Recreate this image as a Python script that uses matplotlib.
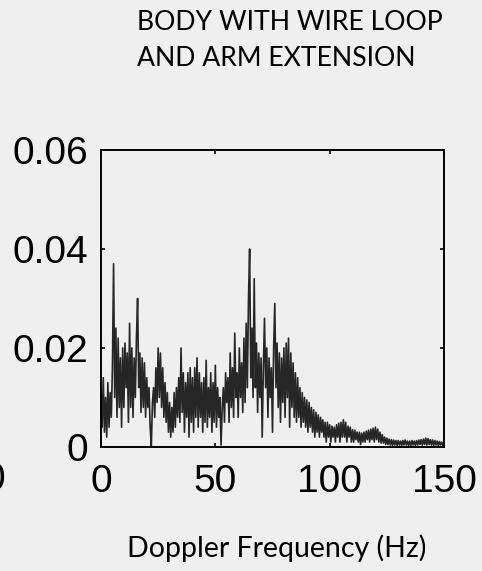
import matplotlib
matplotlib.use("Agg")
import matplotlib.pyplot as plt
import numpy as np

# Doppler spectrum, 0.5 Hz steps from 0 to 150 Hz
freq = np.arange(0, 150.5, 0.5)
amp = [
    0.012, 0.004, 0.014, 0.003, 0.010, 0.002, 0.013, 0.004, 0.011, 0.006,
    0.016, 0.037, 0.010, 0.024, 0.006, 0.022, 0.008, 0.018, 0.004, 0.020,
    0.008, 0.021, 0.012, 0.019, 0.005, 0.025, 0.008, 0.020, 0.006, 0.018,
    0.010, 0.022, 0.030, 0.012, 0.019, 0.007, 0.018, 0.008, 0.017, 0.006,
    0.014, 0.008, 0.012, 0.004, 0.000, 0.009, 0.012, 0.006, 0.016, 0.009,
    0.020, 0.010, 0.019, 0.008, 0.016, 0.006, 0.013, 0.005, 0.011, 0.003,
    0.009, 0.002, 0.008, 0.003, 0.011, 0.004, 0.012, 0.006, 0.014, 0.005,
    0.020, 0.007, 0.015, 0.003, 0.013, 0.006, 0.015, 0.002, 0.016, 0.005,
    0.014, 0.003, 0.016, 0.006, 0.018, 0.004, 0.015, 0.006, 0.013, 0.003,
    0.014, 0.005, 0.0175, 0.004, 0.012, 0.006, 0.015, 0.003, 0.013, 0.005,
    0.0165, 0.004, 0.012, 0.006, 0.010, 0.0004, 0.008, 0.012, 0.005, 0.015,
    0.009, 0.014, 0.005, 0.019, 0.008, 0.016, 0.006, 0.023, 0.010, 0.015,
    0.006, 0.020, 0.010, 0.017, 0.007, 0.022, 0.009, 0.025, 0.012, 0.030,
    0.040, 0.014, 0.024, 0.010, 0.034, 0.012, 0.021, 0.007, 0.019, 0.010,
    0.018, 0.002, 0.016, 0.026, 0.012, 0.020, 0.006, 0.018, 0.010, 0.016,
    0.003, 0.020, 0.029, 0.012, 0.021, 0.008, 0.019, 0.005, 0.018, 0.009,
    0.020, 0.006, 0.021, 0.010, 0.022, 0.004, 0.019, 0.008, 0.017, 0.006,
    0.015, 0.005, 0.014, 0.006, 0.012, 0.004, 0.011, 0.005, 0.010, 0.004,
    0.0095, 0.003, 0.009, 0.004, 0.008, 0.003, 0.0075, 0.002, 0.007, 0.003,
    0.0065, 0.002, 0.006, 0.003, 0.0055, 0.002, 0.005, 0.001, 0.005, 0.002,
    0.0045, 0.001, 0.0042, 0.002, 0.004, 0.001, 0.0045, 0.002, 0.0048, 0.001,
    0.005, 0.002, 0.0055, 0.002, 0.005, 0.001, 0.0042, 0.002, 0.004, 0.001,
    0.0035, 0.001, 0.0034, 0.0015, 0.003, 0.001, 0.003, 0.0005, 0.0028, 0.001,
    0.003, 0.001, 0.0032, 0.0015, 0.0034, 0.001, 0.0036, 0.0015, 0.0038, 0.001,
    0.004, 0.0015, 0.0036, 0.001, 0.003, 0.0008, 0.0025, 0.0008, 0.002, 0.0005,
    0.0018, 0.0005, 0.0016, 0.0004, 0.0015, 0.0003, 0.0014, 0.0004, 0.0013, 0.0003,
    0.0013, 0.0004, 0.0012, 0.0003, 0.0013, 0.0004, 0.0014, 0.0004, 0.0012, 0.0003,
    0.0012, 0.0003, 0.0013, 0.0004, 0.0012, 0.0003, 0.0013, 0.0004, 0.0014, 0.0005,
    0.0015, 0.0004, 0.0016, 0.0005, 0.0018, 0.0004, 0.0017, 0.0005, 0.0015, 0.0004,
    0.0014, 0.0003, 0.0013, 0.0004, 0.0012, 0.0003, 0.0011, 0.0004, 0.0010, 0.0003,
    0.0008,
]
xticks = [0, 50, 100, 150]
yticks = [0, 0.02, 0.04, 0.06]
ytick_labels = ["0", "0.02", "0.04", "0.06"]

bg = "#efefef"
fig = plt.figure(figsize=(4.82, 5.71), dpi=100, facecolor=bg)
ax = fig.add_axes([101 / 482, 124 / 571, 343 / 482, 297 / 571], facecolor=bg)

ax.plot(freq, amp, color="#262626", lw=1.2)

ax.set_xlim(0, 150)
ax.set_ylim(0, 0.06)
ax.set_xticks(xticks)
ax.set_xticklabels([str(t) for t in xticks])
ax.set_yticks(yticks)
ax.set_yticklabels(ytick_labels)
ax.tick_params(direction="in", length=3, width=1.2, top=True, right=True,
               labelsize=28, colors="black")
ax.tick_params(axis="x", pad=12)
ax.tick_params(axis="y", pad=9)
for lab in ax.get_xticklabels() + ax.get_yticklabels():
    lab.set_fontfamily("Liberation Sans")
for s in ax.spines.values():
    s.set_linewidth(1.4)

fig.text(137 / 482, 1 - 22 / 571, "BODY WITH WIRE LOOP", family="Lato",
         fontsize=19.2, ha="left", va="center")
fig.text(137 / 482, 1 - 59 / 571, "AND ARM EXTENSION", family="Lato",
         fontsize=19.2, ha="left", va="center")
fig.text(277 / 482, 1 - 548 / 571, "Doppler Frequency (Hz)", family="Lato",
         fontsize=20.5, ha="center", va="center")
# edge of the neighbouring panel's tick label, cut by the crop
fig.text(5 / 482, 1 - 480 / 571, "0", family="Liberation Sans",
         fontsize=28, ha="right", va="center")

fig.savefig("out.png", dpi=100, facecolor=bg)
